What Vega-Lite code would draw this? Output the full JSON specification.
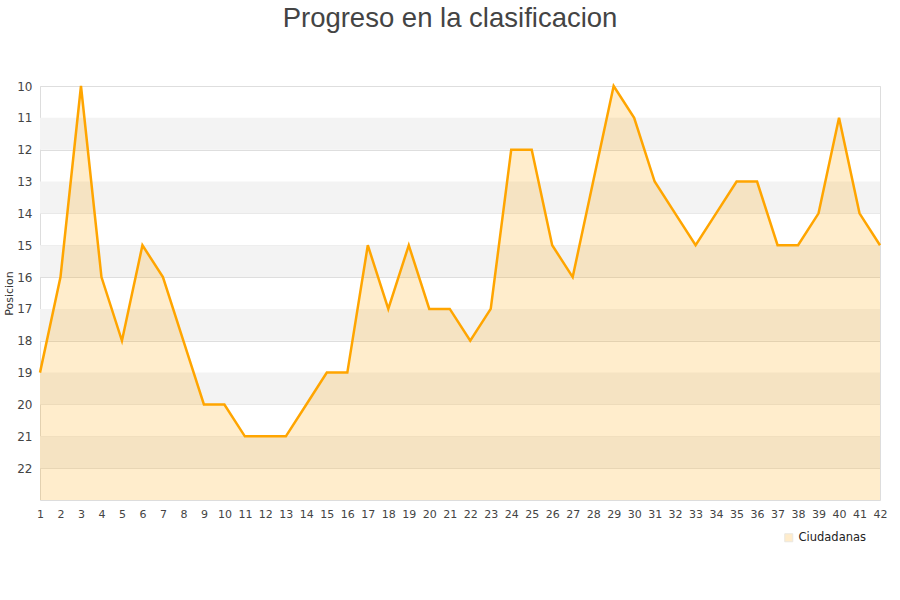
{
  "$schema": "https://vega.github.io/schema/vega-lite/v6.json",
  "width": 840,
  "height": 414,
  "autosize": "none",
  "padding": {"left": 40, "top": 86, "right": 20, "bottom": 100},
  "background": "white",
  "title": {
    "text": "Progreso en la clasificacion",
    "font": "Liberation Sans",
    "fontSize": 27.5,
    "fontWeight": "normal",
    "color": "#444444",
    "anchor": "middle",
    "dx": -10,
    "offset": 48
  },
  "config": {
    "view": {"stroke": "#dddddd", "strokeWidth": 1},
    "axis": {"labelFont": "DejaVu Sans", "titleFont": "DejaVu Sans", "labelColor": "#444444", "titleColor": "#333333"}
  },
  "datasets": {
    "bands": [
      {"a": 11, "b": 12}, {"a": 13, "b": 14}, {"a": 15, "b": 16},
      {"a": 17, "b": 18}, {"a": 19, "b": 20}, {"a": 21, "b": 22}
    ],
    "pos": [
      {"jornada": 1, "posicion": 19}, {"jornada": 2, "posicion": 16}, {"jornada": 3, "posicion": 10},
      {"jornada": 4, "posicion": 16}, {"jornada": 5, "posicion": 18}, {"jornada": 6, "posicion": 15},
      {"jornada": 7, "posicion": 16}, {"jornada": 8, "posicion": 18}, {"jornada": 9, "posicion": 20},
      {"jornada": 10, "posicion": 20}, {"jornada": 11, "posicion": 21}, {"jornada": 12, "posicion": 21},
      {"jornada": 13, "posicion": 21}, {"jornada": 14, "posicion": 20}, {"jornada": 15, "posicion": 19},
      {"jornada": 16, "posicion": 19}, {"jornada": 17, "posicion": 15}, {"jornada": 18, "posicion": 17},
      {"jornada": 19, "posicion": 15}, {"jornada": 20, "posicion": 17}, {"jornada": 21, "posicion": 17},
      {"jornada": 22, "posicion": 18}, {"jornada": 23, "posicion": 17}, {"jornada": 24, "posicion": 12},
      {"jornada": 25, "posicion": 12}, {"jornada": 26, "posicion": 15}, {"jornada": 27, "posicion": 16},
      {"jornada": 28, "posicion": 13}, {"jornada": 29, "posicion": 10}, {"jornada": 30, "posicion": 11},
      {"jornada": 31, "posicion": 13}, {"jornada": 32, "posicion": 14}, {"jornada": 33, "posicion": 15},
      {"jornada": 34, "posicion": 14}, {"jornada": 35, "posicion": 13}, {"jornada": 36, "posicion": 13},
      {"jornada": 37, "posicion": 15}, {"jornada": 38, "posicion": 15}, {"jornada": 39, "posicion": 14},
      {"jornada": 40, "posicion": 11}, {"jornada": 41, "posicion": 14}, {"jornada": 42, "posicion": 15}
    ]
  },
  "layer": [
    {
      "data": {"name": "bands"},
      "mark": {"type": "rect", "color": "#f3f3f3"},
      "encoding": {
        "y": {"field": "a", "type": "quantitative",
          "scale": {"domain": [10, 23], "reverse": true, "nice": false, "zero": false},
          "axis": {"values": [10,11,12,13,14,15,16,17,18,19,20,21,22], "title": "Posicion", "titleFontSize": 11, "titleFontWeight": "normal", "titlePadding": 2, "labelFontSize": 12, "labelPadding": 8, "ticks": false, "domain": false, "grid": true, "gridColor": "#dedede", "labelOverlap": false, "labelBound": false, "labelFlush": false}},
        "y2": {"field": "b"}
      }
    },
    {
      "data": {"name": "pos"},
      "mark": {"type": "area", "opacity": 0.2, "interpolate": "linear"},
      "encoding": {
        "x": {"field": "jornada", "type": "quantitative",
          "scale": {"domain": [1, 42], "nice": false, "zero": false},
          "axis": {"values": [1,2,3,4,5,6,7,8,9,10,11,12,13,14,15,16,17,18,19,20,21,22,23,24,25,26,27,28,29,30,31,32,33,34,35,36,37,38,39,40,41,42], "title": null, "labelAngle": 0, "labelFontSize": 11, "labelPadding": 8, "ticks": false, "domain": false, "grid": false, "labelOverlap": false, "labelBound": false, "labelFlush": false}},
        "y": {"field": "posicion", "type": "quantitative",
          "axis": {"values": [10,11,12,13,14,15,16,17,18,19,20,21,22], "title": "Posicion", "titleFontSize": 11, "titleFontWeight": "normal", "titlePadding": 2, "labelFontSize": 12, "labelPadding": 8, "ticks": false, "domain": false, "grid": true, "gridColor": "#dedede", "labelOverlap": false, "labelBound": false, "labelFlush": false}},
        "y2": {"datum": 23},
        "fill": {"datum": "Ciudadanas", "type": "nominal",
          "scale": {"range": ["#ffa500"]},
          "legend": {"title": null, "orient": "none", "legendX": 743, "legendY": 446, "symbolType": "square", "symbolSize": 64, "symbolStrokeColor": "#9a8a6a", "symbolStrokeWidth": 1, "labelFont": "DejaVu Sans", "labelFontSize": 11.5, "labelColor": "#222222",
            "encode": {"symbols": {"update": {"fill": {"value": "#ffedcc"}, "stroke": {"value": "#9a8a6a"}, "strokeWidth": {"value": 1}, "opacity": {"value": 1}, "fillOpacity": {"value": 1}, "strokeOpacity": {"value": 1}}}}}}
      }
    },
    {
      "data": {"name": "pos"},
      "mark": {"type": "line", "color": "#ffa500", "strokeWidth": 2.5, "interpolate": "linear"},
      "encoding": {
        "x": {"field": "jornada", "type": "quantitative",
          "axis": {"values": [1,2,3,4,5,6,7,8,9,10,11,12,13,14,15,16,17,18,19,20,21,22,23,24,25,26,27,28,29,30,31,32,33,34,35,36,37,38,39,40,41,42], "title": null, "labelAngle": 0, "labelFontSize": 11, "labelPadding": 8, "ticks": false, "domain": false, "grid": false, "labelOverlap": false, "labelBound": false, "labelFlush": false}},
        "y": {"field": "posicion", "type": "quantitative",
          "axis": {"values": [10,11,12,13,14,15,16,17,18,19,20,21,22], "title": "Posicion", "titleFontSize": 11, "titleFontWeight": "normal", "titlePadding": 2, "labelFontSize": 12, "labelPadding": 8, "ticks": false, "domain": false, "grid": true, "gridColor": "#dedede", "labelOverlap": false, "labelBound": false, "labelFlush": false}}
      }
    }
  ]
}
